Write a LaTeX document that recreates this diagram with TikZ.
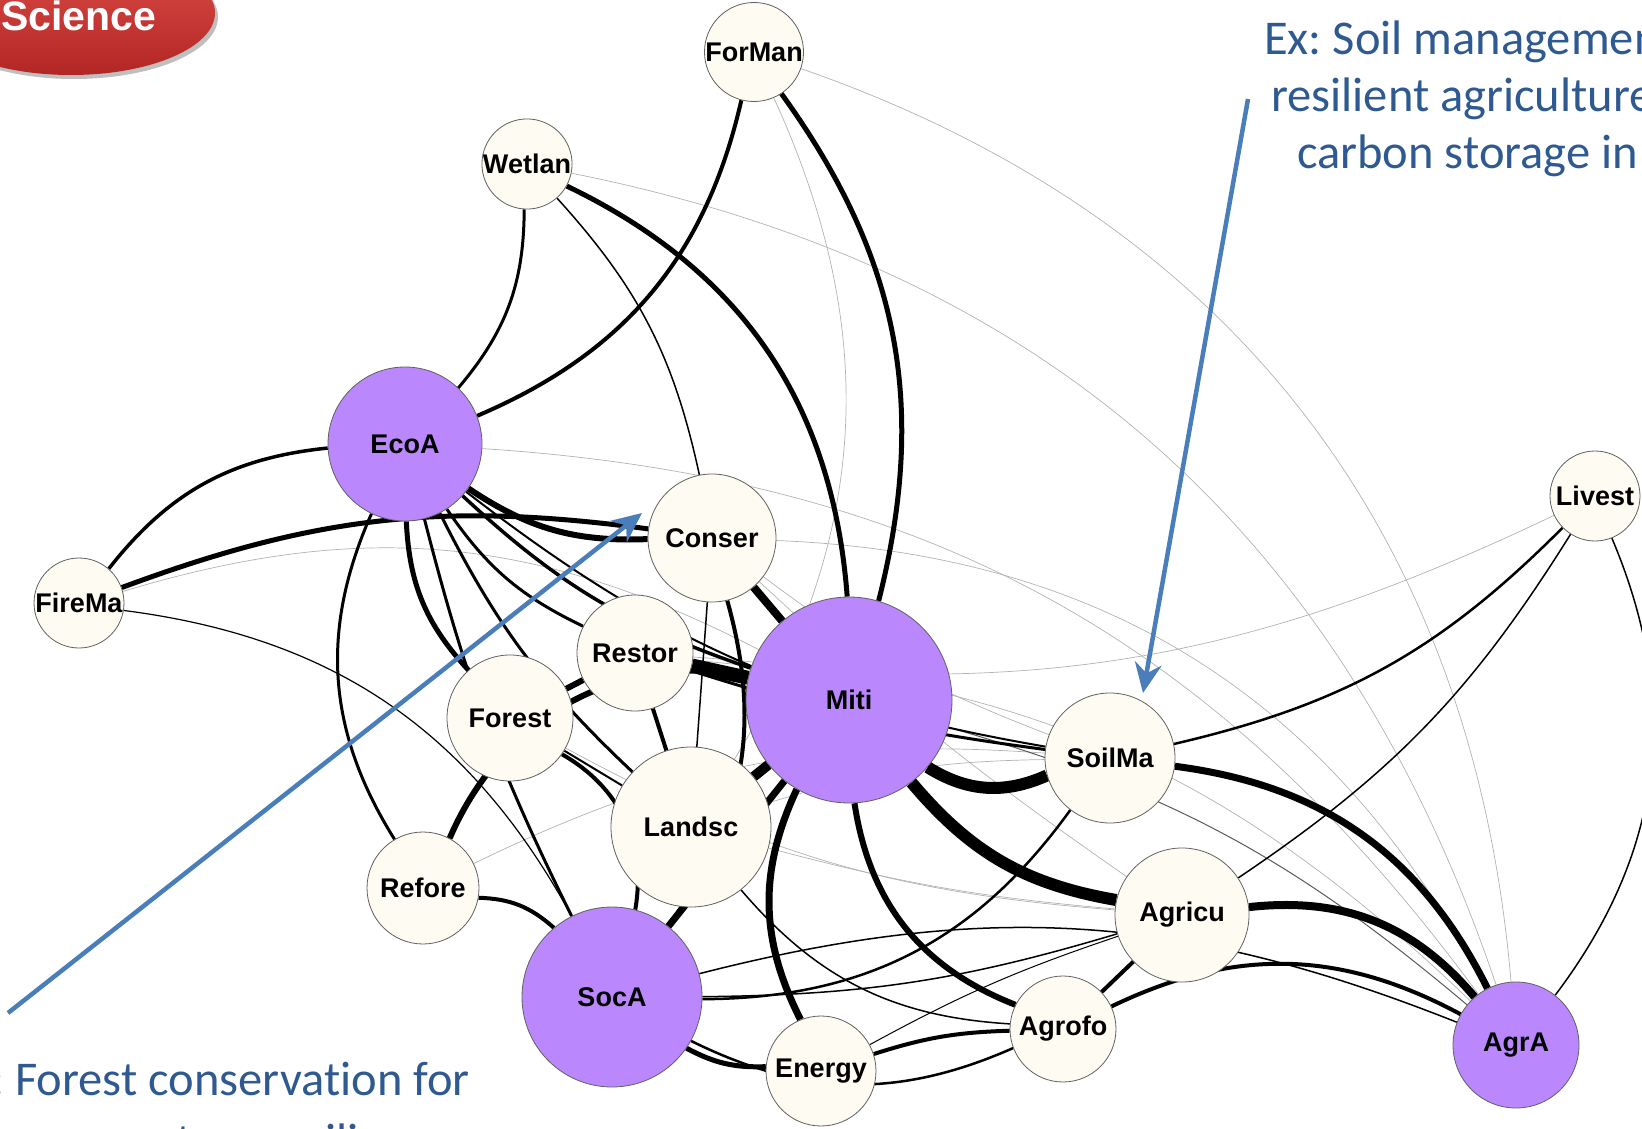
\documentclass[tikz,border=0pt]{standalone}
\usepackage{fontspec}
\setmainfont{Liberation Sans}
\newfontfamily\calfont{Carlito}[Ligatures=NoCommon]
\frenchspacing
\usetikzlibrary{arrows.meta}
\definecolor{hubpurple}{RGB}{186,136,252}
\definecolor{topiccream}{RGB}{253,251,242}
\definecolor{notebl}{RGB}{47,90,145}
\definecolor{arrowbl}{RGB}{74,126,187}
\definecolor{badgetop}{RGB}{222,78,72}
\definecolor{badgebot}{RGB}{178,38,36}
\pgfdeclarelayer{edges}
\pgfsetlayers{edges,main}

\begin{document}
\begin{tikzpicture}[x=1pt,y=-1pt,
  theme/.style={circle,draw=gray!75!black,line width=0.8pt,inner sep=0pt,
    font=\fontsize{27}{30}\selectfont\bfseries,minimum size=#1pt},
  hub/.style={theme=#1,fill=hubpurple},
  topic/.style={theme=#1,fill=topiccream},
  tie/.style={line width=#1pt},
  faint/.style={gray!60,line width=0.7pt},
  exnote/.style={text=notebl,font=\calfont\fontsize{48.5}{58}\selectfont,inner sep=0pt},
  pointer/.style={arrowbl,line width=4.5pt,-{Stealth[length=30pt,width=27pt,inset=10pt]}}]
\useasboundingbox (0,0) rectangle (1642,1129);
\clip (0,0) rectangle (1642,1129);

% badge
\fill[black!25] (74,17) ellipse [x radius=144, y radius=62];
\shade[top color=badgetop,bottom color=badgebot] (71,13) ellipse [x radius=144, y radius=62];
\node[anchor=base west,inner sep=0pt,text=white,font=\fontsize{41}{44}\selectfont\bfseries] (badge) at (1,31) {Science};

% themes
\path
(754,52)    node[topic=90]  (forman) {ForMan}
(527,164)   node[topic=90]  (wetlan) {Wetlan}
(405,444)   node[hub=154]   (ecoa)   {EcoA}
(712,538)   node[topic=128] (conser) {Conser}
(79,603)    node[topic=90]  (firema) {FireMa}
(635,653)   node[topic=116] (restor) {Restor}
(510,718)   node[topic=126] (forest) {Forest}
(849,700)   node[hub=206]   (miti)   {Miti}
(691,827)   node[topic=160] (landsc) {Landsc}
(1110,758)  node[topic=130] (soilma) {SoilMa}
(423,888)   node[topic=112] (refore) {Refore}
(612,997)   node[hub=180]   (soca)   {SocA}
(1182,915)  node[topic=134] (agricu) {Agricu}
(1063,1029) node[topic=106] (agrofo) {Agrofo}
(821,1071)  node[topic=110] (energy) {Energy}
(1516,1045) node[hub=126]   (agra)   {AgrA}
(1595,496)  node[topic=90]  (livest) {Livest};

\begin{pgfonlayer}{edges}
% weak links
\draw[faint] (forman) to[bend left=28] (landsc);
\draw[faint] (forman) to[bend left=33] (agra);
\draw[faint] (wetlan) to[bend left=30] (agra);
\draw[faint] (ecoa) to[bend left=25] (agra);
\draw[faint] (conser) to[bend left=30] (agra);
\draw[faint] (restor) to[bend left=20] (agra);
\draw[faint] (restor) to[bend right=16] (livest);
\draw[faint] (firema) to[bend left=22] (miti);
\draw[faint] (refore) to[bend left=15] (soilma);
\draw[faint] (forest) to[bend right=12] (agricu);
\draw[faint] (landsc) to[bend left=8] (soilma);
\draw[faint] (landsc) to[bend right=5] (agricu);
\draw[faint] (conser) to[bend right=8] (soilma);
\draw[faint] (conser) to[bend right=4] (agricu);
\draw[gray!70!black,line width=1pt] (miti) to[bend left=12] (agra);

% strong links
\draw[tie=4] (forman) to[bend left=27] (ecoa);
\draw[tie=5] (forman) to[bend left=25] (miti);
\draw[tie=3] (wetlan) to[bend left=20] (ecoa);
\draw[tie=1.5] (wetlan) to[bend left=15] (conser);
\draw[tie=5] (wetlan) to[bend left=30] (miti);
\draw[tie=3.5] (ecoa) to[bend right=23] (firema);
\draw[tie=3] (ecoa) to[bend right=28] (refore);
\draw[tie=6] (ecoa) to[bend right=18] (conser);
\draw[tie=3.5] (ecoa) to[bend right=12] (miti);
\draw[tie=3] (ecoa) to[bend right=15] (restor);
\draw[tie=2] (ecoa) to[bend right=14] (soilma);
\draw[tie=5] (ecoa) to[bend right=20] (forest);
\draw[tie=3] (ecoa) to[bend right=10] (landsc);
\draw[tie=3] (ecoa) to[bend right=6] (soca);
\draw[tie=5] (firema) to[bend left=14] (conser);
\draw[tie=1.2] (firema) to[bend left=27] (soca);
\draw[tie=8] (conser) -- (miti);
\draw[tie=1.5] (conser) -- (landsc);
\draw[tie=4] (conser) to[bend left=26] (soca);
\draw[tie=14] (restor) -- (miti);
\draw[tie=6] (restor) -- (forest);
\draw[tie=4] (restor) -- (landsc);
\draw[tie=3] (restor) to[bend right=5] (soilma);
\draw[tie=4] (forest) to[bend left=35] (soca);
\draw[tie=2] (forest) -- (landsc);
\draw[tie=6] (refore) to[bend left=38] (miti);
\draw[tie=4] (refore) to[bend left=20] (soca);
\draw[tie=10] (landsc) -- (miti);
\draw[tie=12] (miti) to[bend right=28] (soilma);
\draw[tie=12] (miti) to[bend right=20] (agricu);
\draw[tie=6] (miti) to[bend right=30] (agrofo);
\draw[tie=7] (miti) to[bend right=26] (energy);
\draw[tie=7] (miti) -- (soca);
\draw[tie=1.5] (landsc) to[bend right=23] (agrofo);
\draw[tie=5] (soca) to[bend right=15] (energy);
\draw[tie=2.5] (soca) to[bend right=25] (agrofo);
\draw[tie=1.5] (soca) to[bend right=8] (agricu);
\draw[tie=1.5] (soca) to[bend left=18] (agra);
\draw[tie=2.5] (soilma) to[bend left=27] (soca);
\draw[tie=4] (energy) to[bend left=8] (agrofo);
\draw[tie=1] (energy) to[bend left=5] (agricu);
\draw[tie=4] (agrofo) -- (agricu);
\draw[tie=4] (agrofo) to[bend left=27] (agra);
\draw[tie=8] (agricu) to[bend left=28] (agra);
\draw[tie=7] (soilma) to[bend left=28] (agra);
\draw[tie=2.5] (livest) to[bend left=16] (soilma);
\draw[tie=1.5] (livest) to[bend left=12] (agricu);
\draw[tie=1.5] (livest) to[bend left=30] (agra);
\end{pgfonlayer}

% examples
\coordinate (forestfoot) at (8,1013);
\coordinate (forestaim) at (642,513);
\coordinate (soilfoot) at (1248,99);
\coordinate (soilaim) at (1143,693);
\draw[pointer] (forestfoot) -- (forestaim);
\draw[pointer] (soilfoot) -- (soilaim);

\node[exnote,anchor=base west] (soiltext1) at (1264,55) {Ex: Soil management};
\node[exnote,anchor=base west] (soiltext2) at (1271,112) {resilient agriculture};
\node[exnote,anchor=base west] (soiltext3) at (1297,169) {carbon storage in};
\node[exnote,anchor=base east] (foresttext1) at (470,1095) {Ex: Forest conservation for};
\node[exnote,anchor=base west] (foresttext2) at (48,1157) {ecosystem resilience};
\end{tikzpicture}
\end{document}
